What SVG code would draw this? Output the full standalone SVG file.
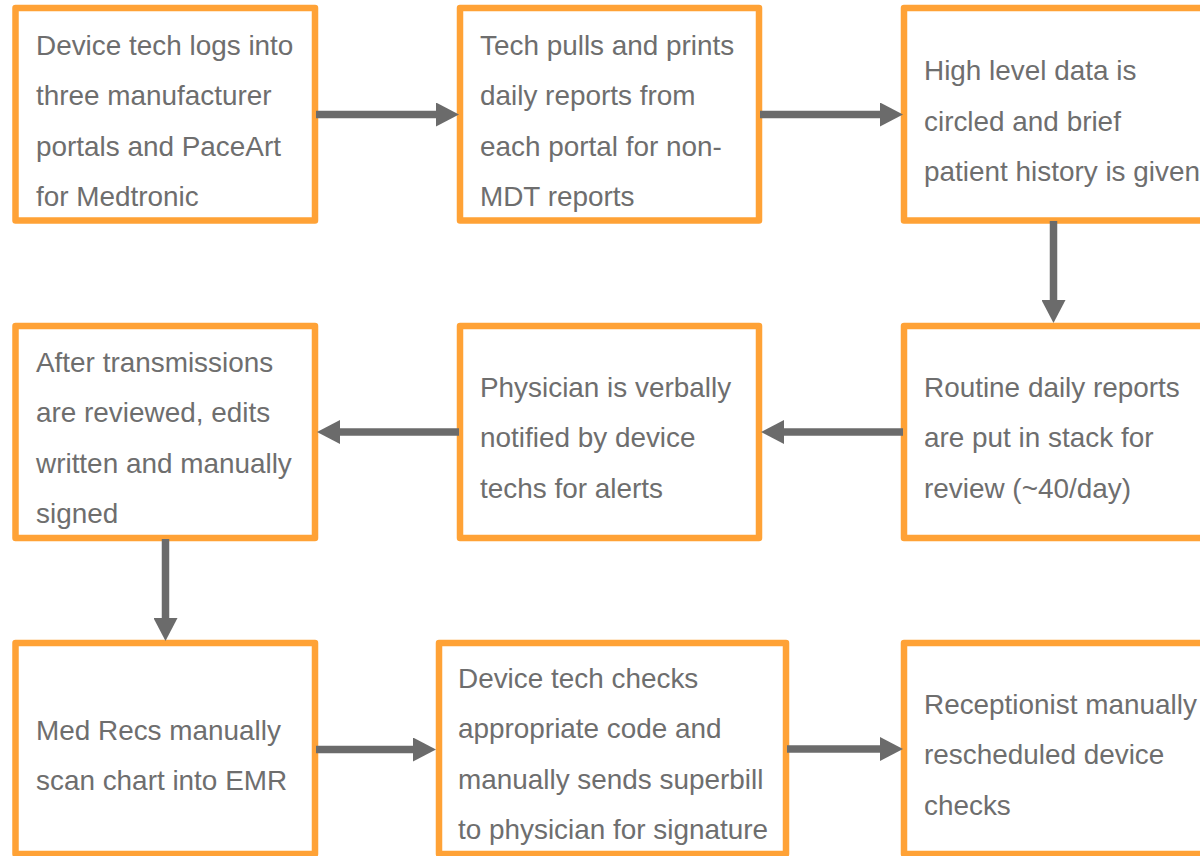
<svg xmlns="http://www.w3.org/2000/svg" width="1200" height="856" viewBox="0 0 1200 856">
  <defs>
    <style>
      .box { fill: #ffffff; stroke: #FFA236; stroke-width: 6.5; stroke-linejoin: round; }
      .lbl { font-family: "Liberation Sans", Arial, sans-serif; font-size: 27.9px; fill: #6e6e6e; }
      .conn { stroke: #6b6b6b; stroke-width: 7.5; fill: none; marker-end: url(#head); }
    </style>
    <marker id="head" markerUnits="userSpaceOnUse" markerWidth="24" markerHeight="24" refX="2" refY="12" orient="auto">
      <path d="M0,0 L23,12 L0,24 Z" fill="#6b6b6b"/>
    </marker>
  </defs>
  <rect width="1200" height="856" fill="#ffffff"/>

  <!-- Row 1 -->
  <g id="node-login">
    <rect class="box" x="15.5" y="8" width="299.5" height="212.5"/>
    <text class="lbl" x="36" y="54.5">Device tech logs into</text>
    <text class="lbl" x="36" y="105">three manufacturer</text>
    <text class="lbl" x="36" y="155.5">portals and PaceArt</text>
    <text class="lbl" x="36" y="206">for Medtronic</text>
  </g>
  <g id="node-print">
    <rect class="box" x="460" y="8" width="299" height="212.5"/>
    <text class="lbl" x="480" y="54.5">Tech pulls and prints</text>
    <text class="lbl" x="480" y="105">daily reports from</text>
    <text class="lbl" x="480" y="155.5">each portal for non-</text>
    <text class="lbl" x="480" y="206">MDT reports</text>
  </g>
  <g id="node-circle">
    <rect class="box" x="904" y="8" width="300" height="212.5"/>
    <text class="lbl" x="924" y="80">High level data is</text>
    <text class="lbl" x="924" y="130.5">circled and brief</text>
    <text class="lbl" x="924" y="181">patient history is given</text>
  </g>

  <!-- Row 2 -->
  <g id="node-stack">
    <rect class="box" x="904" y="326" width="300" height="212"/>
    <text class="lbl" x="924" y="396.5">Routine daily reports</text>
    <text class="lbl" x="924" y="447">are put in stack for</text>
    <text class="lbl" x="924" y="497.5">review (~40/day)</text>
  </g>
  <g id="node-notify">
    <rect class="box" x="460" y="326" width="299" height="212"/>
    <text class="lbl" x="480" y="396.5">Physician is verbally</text>
    <text class="lbl" x="480" y="447">notified by device</text>
    <text class="lbl" x="480" y="497.5">techs for alerts</text>
  </g>
  <g id="node-review">
    <rect class="box" x="15.5" y="326" width="299.5" height="212"/>
    <text class="lbl" x="36" y="371.5">After transmissions</text>
    <text class="lbl" x="36" y="422">are reviewed, edits</text>
    <text class="lbl" x="36" y="472.5">written and manually</text>
    <text class="lbl" x="36" y="523">signed</text>
  </g>

  <!-- Row 3 -->
  <g id="node-scan">
    <rect class="box" x="15.5" y="643" width="299.5" height="211"/>
    <text class="lbl" x="36" y="739.5">Med Recs manually</text>
    <text class="lbl" x="36" y="789.5">scan chart into EMR</text>
  </g>
  <g id="node-superbill">
    <rect class="box" x="439" y="643" width="347" height="211"/>
    <text class="lbl" x="458" y="687.5">Device tech checks</text>
    <text class="lbl" x="458" y="738">appropriate code and</text>
    <text class="lbl" x="458" y="788.5">manually sends superbill</text>
    <text class="lbl" x="458" y="839">to physician for signature</text>
  </g>
  <g id="node-reschedule">
    <rect class="box" x="904" y="643" width="300" height="211"/>
    <text class="lbl" x="924" y="713.5">Receptionist manually</text>
    <text class="lbl" x="924" y="764">rescheduled device</text>
    <text class="lbl" x="924" y="814.5">checks</text>
  </g>

  <!-- Connectors -->
  <g id="connectors">
    <line class="conn" x1="316" y1="114.5" x2="438" y2="114.5"/>
    <line class="conn" x1="760" y1="114.5" x2="882" y2="114.5"/>
    <line class="conn" x1="1053.5" y1="221" x2="1053.5" y2="302"/>
    <line class="conn" x1="903" y1="432" x2="782" y2="432"/>
    <line class="conn" x1="459" y1="432" x2="338" y2="432"/>
    <line class="conn" x1="165.5" y1="539" x2="165.5" y2="620"/>
    <line class="conn" x1="316" y1="749.5" x2="415" y2="749.5"/>
    <line class="conn" x1="787" y1="749" x2="882" y2="749"/>
  </g>
</svg>
